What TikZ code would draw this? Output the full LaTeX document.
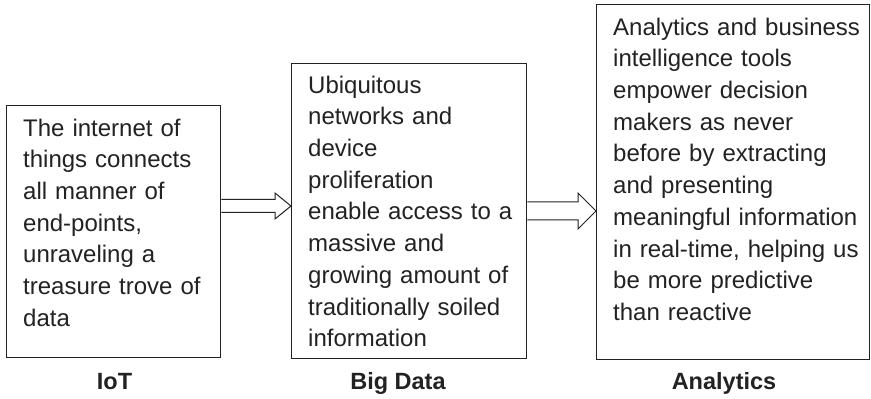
\documentclass[tikz,border=0pt]{standalone}
\usepackage{fontspec}
\setmainfont{Liberation Sans}
\usetikzlibrary{calc}
\definecolor{ink}{HTML}{222222}
\tikzset{
  x=1pt, y=1pt,
  box/.style={draw=ink, line width=1.3pt, inner sep=0pt, anchor=north west},
  body/.style={font=\fontsize{24}{31.7}\selectfont, text=ink, align=left,
               text width=260pt, inner sep=0pt, anchor=north west},
  caption/.style={font=\fontsize{23.5}{28}\selectfont\bfseries, text=ink,
                  inner sep=0pt, anchor=base},
  arrowline/.style={draw=ink, line width=1pt, line join=miter}
}
% open block arrow: start, tip, shaft half-width, head half-width, head length
\newcommand\hollowarrow[5]{%
  \draw[arrowline] ($(#1)+(0,#3)$) -- ($(#2)+(-#5,#3)$) -- ($(#2)+(-#5,#4)$)
    -- (#2) -- ($(#2)+(-#5,-#4)$) -- ($(#2)+(-#5,-#3)$) -- ($(#1)+(0,-#3)$);}
\begin{document}
\begin{tikzpicture}
\useasboundingbox (0,0) rectangle (871,399);
\fill[white] (0,0) rectangle (871,399);

% the three stages
\node[box, minimum width=214pt, minimum height=252pt] (b1) at (6,294) {};
\node[box, minimum width=235pt, minimum height=295pt] (b2) at (291,336) {};
\node[box, minimum width=273pt, minimum height=355pt] (b3) at (596,395) {};

\node[body] (t1) at ($(b1.north west)+(17,-11)$)
  {\rule{0pt}{20pt}The internet of\\things connects\\all manner of\\end-points,\\unraveling a\\treasure trove of\\data};
\node[body] (t2) at ($(b2.north west)+(17,-10)$)
  {\rule{0pt}{20pt}Ubiquitous\\networks and\\device\\proliferation\\enable access to a\\massive and\\growing amount of\\traditionally soiled\\information};
\node[body] (t3) at ($(b3.north west)+(17,-11)$)
  {\rule{0pt}{20pt}Analytics and business\\intelligence tools\\empower decision\\makers as never\\before by extracting\\and presenting\\meaningful information\\in real-time, helping us\\be more predictive\\than reactive};

% captions under the boxes
\node[caption] (c1) at (114.5,9) {IoT};
\node[caption] (c2) at (398,9) {Big Data};
\node[caption] (c3) at (724,9) {Analytics};

% block arrows between the stages
\coordinate (a1s) at (b1.east |- 0,193);
\coordinate (a1e) at (b2.west |- a1s);
\coordinate (a2s) at (b2.east |- 0,188);
\coordinate (a2e) at (b3.west |- a2s);
\hollowarrow{a1s}{a1e}{6.5}{13}{16}
\hollowarrow{a2s}{a2e}{9}{18}{18}
\end{tikzpicture}
\end{document}
